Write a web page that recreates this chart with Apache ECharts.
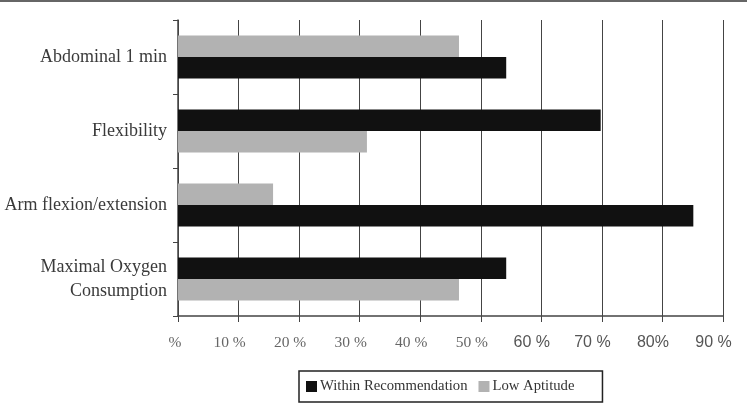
<!DOCTYPE html>
<html>
<head>
<meta charset="utf-8">
<script src="https://cdn.jsdelivr.net/npm/echarts@6/dist/echarts.min.js"></script>
<style>
  html, body { margin: 0; padding: 0; background: #fff; }
  #chart { width: 747px; height: 408px; }
</style>
</head>
<body>
<div id="chart"></div>
<script>
// categories, top to bottom
const categories = ['Abdominal 1 min', 'Flexibility', 'Arm flexion/extension', 'Maximal Oxygen\nConsumption'];
const withinRecommendation = [54.2, 69.8, 85.1, 54.2];
const lowAptitude = [46.4, 31.2, 15.7, 46.4];
// which bar sits on top inside each category
const blackOnTop = [false, true, false, true];
const tickLabels = ['%', '10 %', '20 %', '30 %', '40 %', '50 %', '60 %', '70 %', '80%', '90 %'];

const serif = 'Liberation Serif';
const sans = 'Liberation Sans';

function barRenderer(onTop) {
  return function (params, api) {
    const idx = api.value(1);
    const end = api.coord([api.value(0), idx]);
    const start = api.coord([0, idx]);
    const band = api.size([0, 1])[1];
    const h = band * 0.29;
    const y = onTop(idx) ? end[1] - h : end[1];
    return {
      type: 'rect',
      shape: { x: start[0], y: y, width: end[0] - start[0], height: h },
      style: { fill: api.visual('color') }
    };
  };
}

let myChart = echarts.init(document.getElementById('chart'));
let option = {
  animation: false,
  color: ['#111111', '#b2b2b2'],
  graphic: [
    { type: 'rect', left: 0, top: 0, shape: { width: 747, height: 2 }, style: { fill: '#666' } }
  ],
  grid: { left: 178, right: 24, top: 20, bottom: 92, containLabel: false },
  legend: {
    left: 299,
    top: 371,
    icon: 'rect',
    itemWidth: 11,
    itemHeight: 11,
    itemGap: 11,
    padding: [8, 28, 8, 7],
    borderColor: '#222',
    borderWidth: 1.5,
    textStyle: { fontFamily: serif, fontSize: 14.7, color: '#333', padding: [0, 0, 0, -2] },
    data: ['Within Recommendation', 'Low Aptitude']
  },
  xAxis: {
    type: 'value',
    min: 0,
    max: 90,
    interval: 10,
    axisLine: { show: true, lineStyle: { color: '#444', width: 1.5 } },
    axisTick: { show: true, length: 6, lineStyle: { color: '#444' } },
    splitLine: { show: true, lineStyle: { color: '#444', width: 1 } },
    axisLabel: {
      margin: 19,
      formatter: function (v) {
        const i = Math.round(v / 10);
        const style = i === 0 ? 'z' : (i < 6 ? 's' : 'n');
        return '{' + style + '|' + tickLabels[i] + '}';
      },
      rich: {
        z: { fontFamily: serif, fontSize: 15.5, color: '#666', padding: [0, 6, 0, 0] },
        s: { fontFamily: serif, fontSize: 15.5, color: '#666', padding: [0, 18, 0, 0] },
        n: { fontFamily: sans, fontSize: 16, color: '#555', padding: [0, 19, 0, 0] }
      }
    }
  },
  yAxis: {
    type: 'category',
    inverse: true,
    data: categories,
    axisLine: { show: true, lineStyle: { color: '#444', width: 1.5 } },
    axisTick: { show: true, length: 5, lineStyle: { color: '#444' } },
    axisLabel: {
      margin: 11,
      fontFamily: serif,
      fontSize: 18,
      lineHeight: 24,
      color: '#3a3a3a'
    }
  },
  series: [
    {
      name: 'Within Recommendation',
      type: 'custom',
      encode: { x: 0, y: 1 },
      data: withinRecommendation.map((v, i) => [v, i]),
      renderItem: barRenderer(i => blackOnTop[i])
    },
    {
      name: 'Low Aptitude',
      type: 'custom',
      encode: { x: 0, y: 1 },
      data: lowAptitude.map((v, i) => [v, i]),
      renderItem: barRenderer(i => !blackOnTop[i])
    }
  ]
};
myChart.setOption(option);
</script>
</body>
</html>
